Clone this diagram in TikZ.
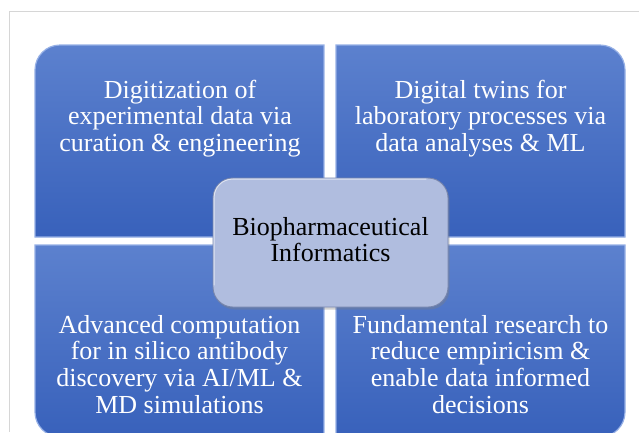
\documentclass[tikz,border=0pt]{standalone}
\usepackage{fontspec}
\setmainfont{Liberation Serif}
\usetikzlibrary{shadows,calc}
\definecolor{tiletop}{RGB}{92,129,206}
\definecolor{tilebot}{RGB}{56,97,187}
\definecolor{tileedge}{RGB}{150,176,230}
\definecolor{hubfill}{RGB}{176,189,223}
\definecolor{hubedge}{RGB}{120,134,172}
\definecolor{framegray}{RGB}{214,214,214}
\begin{document}
\begin{tikzpicture}[x=1pt,y=-1pt,
  tile/.style={top color=tiletop,bottom color=tilebot,draw=tileedge,line width=1.2pt},
  tiletext/.style={text=white,align=center,anchor=north,inner sep=0pt,
    font=\fontsize{26}{26.6}\selectfont},
  hub/.style={draw=hubedge,line width=0.9pt,fill=hubfill,rounded corners=20pt,
    minimum width=235pt,minimum height=129pt,inner sep=0pt,
    drop shadow={shadow xshift=1.5pt,shadow yshift=-2.5pt,opacity=0.35}},
  hubtext/.style={align=center,inner sep=0pt,text=black,
    font=\fontsize{26}{26}\selectfont}
]
% canvas and thin frame
\useasboundingbox (0,0) rectangle (639,432);
\fill[white] (0,0) rectangle (639,432);
\draw[framegray,line width=1pt] (639,11.5) -- (9.5,11.5) -- (9.5,432);

% four quadrant tiles, each with its outer corner rounded (y axis points down)
\draw[tile] (324,237) -- (35,237) -- (35,70) arc[start angle=180,end angle=270,radius=25] -- (324,45) -- cycle;
\draw[tile] (336,237) -- (336,45) -- (600,45) arc[start angle=-90,end angle=0,radius=25] -- (625,237) -- cycle;
\draw[tile] (324,245) -- (35,245) -- (35,412) arc[start angle=180,end angle=90,radius=25] -- (324,437) -- cycle;
\draw[tile] (336,245) -- (625,245) -- (625,412) arc[start angle=0,end angle=90,radius=25] -- (336,437) -- cycle;

% quadrant texts
\node[tiletext] (digit) at (180,79.5) {Digitization of\\experimental data via\\curation \& engineering};
\node[tiletext] (twins) at (480.5,79.5) {Digital twins for\\laboratory processes via\\data analyses \& ML};
\node[tiletext] (comp) at (179.5,315) {Advanced computation\\for in silico antibody\\discovery via AI/ML \&\\MD simulations};
\node[tiletext] (fund) at (480.5,315) {Fundamental research to\\reduce empiricism \&\\enable data informed\\decisions};

% central hub with a soft highlight along its upper-left rim
\node[hub] (hub) at (330.5,242.5) {};
\draw[white,opacity=0.6,line width=1pt,rounded corners=18.5pt]
  ($(hub.south west)+(1.5,-22)$) -- ($(hub.north west)+(1.5,1.5)$) -- ($(hub.north east)+(-22,1.5)$);
\node[hubtext] (hublabel) at (330.5,240) {Biopharmaceutical\\Informatics};
\end{tikzpicture}
\end{document}
